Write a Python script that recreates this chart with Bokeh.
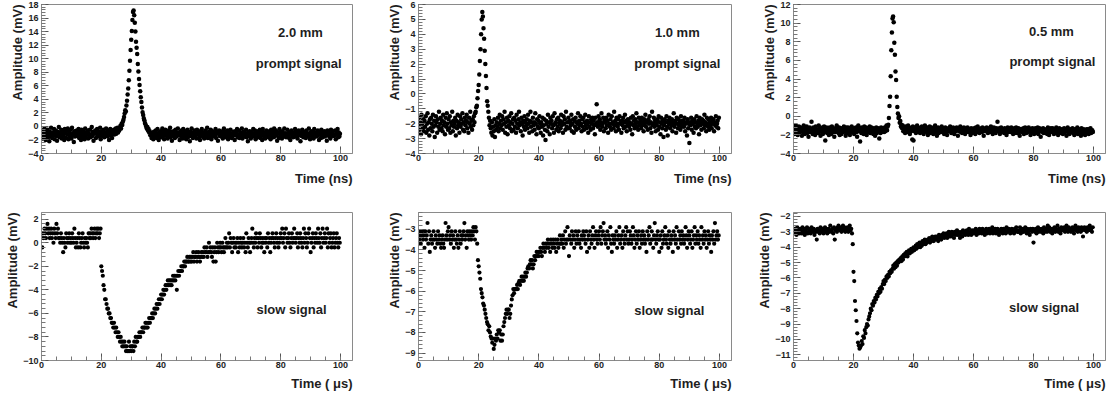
import numpy as np
from bokeh.plotting import figure
from bokeh.layouts import column, row
from bokeh.models import Title, Label, Range1d, SingleIntervalTicker
from bokeh.embed import file_html
from bokeh.resources import INLINE

# ---------------- data ----------------
fast_step_ns = 0.2      # sampling step of the prompt signals (ns)
slow_step_us = 0.25     # sampling step of the slow signals (us)

thickness = ["2.0 mm", "1.0 mm", "0.5 mm"]

prompt_2mm = [
    -1.2, -0.6, -1.8, -0.9, -1.4, -0.3, -1.1, -2.0, -0.7, -1.3,
    -0.5, -1.6, -1.0, -2.2, -0.8, -1.5, -0.2, -1.1, -1.7, -0.9,
    -1.3, -0.4, -1.9, -1.0, -0.6, -1.4, -2.1, -0.8, -1.2, -0.1,
    -1.6, -0.9, -1.3, -0.5, -1.8, -1.1, -0.7, -1.5, -2.0, -0.4,
    -1.0, -1.7, -0.6, -1.2, -0.3, -1.9, -0.8, -1.4, -1.1, -0.5,
    -1.8, -0.2, -1.3, -1.0, -2.3, -0.7, -1.5, -0.9, -1.2, -0.6,
    -1.4, -1.1, -0.4, -1.7, -0.8, -1.3, -2.0, -0.5, -1.0, -1.6,
    -0.7, -1.2, -1.9, -0.3, -1.5, -0.9, -1.1, -0.6, -1.8, -1.0,
    -1.3, -0.5, -1.6, -1.2, -0.1, -1.4, -0.8, -2.1, -0.9, -1.1,
    -0.6, -1.7, -1.0, -0.4, -1.3, -0.8, -1.5, -1.2, -0.2, -1.9,
    -1.1, -0.7, -1.4, -1.0, -0.5, -1.6, -0.9, -1.3, -0.3, -1.2,
    -0.8, -1.5, -0.6, -2.0, -1.1, -0.4, -1.3, -0.9, -1.7, -0.7,
    -1.0, -0.5, -1.2, -0.8, -0.3, -1.1, -0.6, -0.2, -0.9, -0.4,
    -0.6, -0.2, 0.1, -0.3, 0.4, 0.2, 0.7, 1.0, 1.4, 1.9,
    2.4, 2.2, 3.1, 3.8, 4.7, 5.6, 6.8, 8.2, 9.7, 11.3,
    12.8, 14.1, 15.7, 16.9, 17.1, 16.4, 15.3, 14.0, 12.5, 11.6,
    10.7, 9.2, 8.1, 7.0, 6.1, 5.2, 4.3, 3.6, 2.8, 2.1,
    1.7, 1.2, 0.9, 0.5, 0.3, 0.0, -0.3, -0.1, -0.6, -0.4,
    -0.9, -0.7, -1.3, -1.0, -1.7, -1.4, -1.1, -1.9, -0.8, -1.5,
    -1.2, -0.6, -1.7, -1.0, -0.4, -1.4, -2.0, -0.9, -1.3, -0.7,
    -1.6, -1.1, -0.3, -1.5, -0.8, -1.9, -1.2, -0.5, -1.0, -1.4,
    -0.9, -1.8, -0.6, -1.3, -1.1, -0.2, -1.6, -0.8, -2.1, -1.0,
    -1.4, -0.7, -1.2, -1.7, -0.5, -1.0, -1.5, -0.9, -0.3, -1.3,
    -1.1, -2.0, -0.8, -1.4, -0.6, -1.2, -1.8, -0.4, -1.0, -1.5,
    -0.7, -1.3, -1.9, -1.0, -0.5, -1.6, -0.9, -1.2, -2.2, -0.8,
    -1.4, -0.3, -1.1, -1.7, -0.9, -1.3, -0.6, -1.5, -1.0, -1.8,
    -0.5, -1.2, -1.0, -0.7, -1.6, -2.0, -0.8, -1.3, -0.4, -1.1,
    -1.5, -0.9, -1.8, -1.2, -0.6, -1.0, -1.4, -0.2, -1.7, -1.1,
    -0.8, -1.6, -1.3, -0.5, -1.9, -1.0, -0.7, -1.5, -1.2, -0.9,
    -1.3, -0.4, -1.7, -1.1, -0.8, -2.1, -1.0, -0.6, -1.4, -1.2,
    -0.9, -1.5, -0.7, -1.8, -1.2, -0.3, -1.1, -1.6, -0.8, -1.4,
    -1.0, -0.6, -1.9, -1.3, -0.9, -1.5, -0.5, -1.2, -1.7, -1.0,
    -1.4, -0.8, -1.1, -2.0, -0.7, -1.3, -1.0, -0.4, -1.6, -1.2,
    -0.6, -1.7, -1.2, -0.9, -1.4, -0.3, -1.8, -1.1, -0.8, -1.5,
    -1.2, -1.0, -0.5, -1.6, -1.3, -2.2, -0.9, -1.4, -0.7, -1.1,
    -1.8, -0.8, -1.3, -1.0, -0.4, -1.5, -1.2, -0.6, -1.9, -0.9,
    -1.1, -1.6, -0.7, -1.4, -1.0, -0.5, -1.7, -1.3, -0.8, -2.0,
    -0.4, -1.2, -1.5, -0.9, -1.8, -1.1, -0.6, -1.3, -1.0, -1.6,
    -1.3, -0.7, -1.0, -1.9, -0.5, -1.4, -1.2, -0.8, -1.6, -0.3,
    -1.5, -1.1, -0.6, -1.3, -2.1, -0.9, -1.0, -1.7, -0.4, -1.2,
    -0.8, -1.4, -1.8, -0.7, -1.1, -1.5, -0.3, -1.2, -1.0, -1.6,
    -1.2, -0.5, -1.3, -1.0, -1.7, -0.8, -2.0, -1.1, -0.6, -1.4,
    -1.0, -1.6, -0.9, -1.5, -0.4, -1.2, -1.3, -0.7, -1.8, -1.1,
    -0.6, -1.3, -1.1, -2.2, -0.9, -1.4, -0.5, -1.0, -1.6, -0.8,
    -1.4, -0.9, -1.7, -0.6, -1.2, -1.0, -1.5, -0.3, -1.3, -1.9,
    -1.1, -0.7, -1.2, -1.6, -0.8, -1.8, -0.4, -1.3, -1.0, -1.5,
    -0.9, -1.4, -0.6, -1.1, -2.0, -1.2, -0.8, -1.7, -0.5, -1.3,
    -1.6, -1.0, -1.3, -0.7, -1.5, -0.9, -1.2, -2.1, -0.6, -1.0,
    -0.8, -1.5, -1.1, -1.8, -0.5, -1.3, -1.0, -0.7, -1.4, -1.2,
    -1.3, -0.6, -1.9, -1.0, -1.2, -0.4, -1.6, -0.9, -1.5, -1.1,
]

prompt_1mm = [
    -2.1, -1.6, -2.4, -1.9, -2.7, -1.4, -2.0, -2.3, -1.7, -2.5,
    -1.8, -2.2, -1.5, -2.6, -2.0, -1.3, -2.4, -1.9, -2.8, -1.7,
    -2.3, -1.6, -2.0, -2.5, -1.4, -2.2, -1.8, -2.9, -2.1, -1.5,
    -1.9, -2.6, -1.7, -2.2, -1.2, -2.4, -2.0, -1.6, -2.3, -1.8,
    -2.5, -1.4, -2.1, -1.9, -2.7, -1.6, -2.2, -1.3, -2.0, -2.4,
    -1.7, -2.3, -1.5, -2.6, -1.9, -2.1, -1.2, -2.5, -1.8, -2.2,
    -2.0, -1.6, -2.8, -1.8, -2.3, -1.4, -2.1, -1.9, -2.6, -1.5,
    -2.2, -1.7, -2.0, -1.3, -2.4, -1.9, -2.5, -1.6, -2.1, -1.8,
    -1.4, -2.3, -1.9, -2.6, -1.6, -2.0, -1.2, -2.2, -1.8, -2.4,
    -1.7, -2.1, -1.5, -1.9, -1.3, -1.2, -0.9, -0.8, -0.3, 0.2,
    0.6, 1.3, 2.2, 3.0, 4.0, 5.0, 5.5, 5.2, 4.4, 3.7,
    2.9, 2.0, 1.2, 0.4, -0.5, -0.8, -1.2, -1.6, -2.1, -1.8,
    -2.3, -2.6, -1.9, -2.8, -2.2, -2.5, -1.7, -2.9, -2.1, -2.4,
    -1.9, -2.2, -1.6, -2.5, -2.0, -1.4, -2.3, -1.8, -2.1, -1.5,
    -2.4, -1.7, -2.0, -1.2, -2.6, -1.9, -2.2, -1.6, -2.7, -1.8,
    -2.1, -1.5, -2.3, -1.9, -1.3, -2.5, -2.0, -1.7, -2.4, -1.6,
    -2.2, -1.8, -2.6, -1.4, -2.0, -2.3, -1.7, -1.2, -2.1, -1.9,
    -2.5, -1.6, -2.0, -2.8, -1.8, -2.2, -1.5, -2.4, -1.9, -2.1,
    -1.7, -2.3, -1.4, -2.0, -2.6, -1.8, -1.2, -2.2, -1.9, -2.5,
    -1.6, -2.1, -1.9, -2.4, -1.3, -2.0, -2.7, -1.7, -2.2, -1.8,
    -2.3, -1.5, -2.0, -2.6, -1.9, -2.2, -1.6, -2.8, -2.1, -1.7,
    -2.4, -3.1, -1.8, -2.0, -2.5, -1.4, -2.2, -1.9, -2.7, -1.6,
    -2.0, -1.8, -2.3, -1.5, -2.1, -2.6, -1.3, -2.0, -1.9, -2.4,
    -1.7, -2.2, -1.6, -2.5, -2.0, -1.8, -2.3, -1.4, -2.1, -1.9,
    -2.6, -1.5, -2.0, -1.7, -2.4, -1.2, -2.2, -1.9, -2.3, -1.6,
    -1.9, -2.3, -1.8, -2.1, -1.4, -2.5, -2.0, -1.7, -2.6, -1.8,
    -2.2, -1.6, -2.4, -1.9, -2.0, -1.3, -2.3, -1.8, -2.1, -1.5,
    -2.0, -2.5, -1.7, -2.2, -1.6, -2.4, -1.9, -1.4, -2.1, -2.3,
    -1.8, -2.0, -2.6, -1.5, -2.2, -1.9, -2.4, -1.7, -2.0, -1.6,
    -2.3, -1.8, -2.1, -2.7, -1.6, -2.0, -0.7, -1.9, -2.2, -1.5,
    -2.1, -1.7, -2.4, -1.9, -1.3, -2.2, -2.0, -1.6, -2.5, -1.8,
    -1.9, -2.3, -1.6, -2.1, -1.8, -2.6, -1.4, -2.0, -2.2, -1.7,
    -2.4, -1.5, -2.0, -1.9, -2.3, -1.2, -2.1, -1.8, -2.5, -1.6,
    -2.0, -2.2, -1.7, -2.4, -1.5, -2.0, -1.9, -2.6, -1.8, -2.1,
    -1.6, -2.3, -1.9, -1.4, -2.2, -1.8, -2.5, -2.0, -1.7, -2.1,
    -2.2, -1.9, -2.4, -1.6, -2.0, -2.7, -1.5, -2.1, -1.8, -2.3,
    -1.7, -2.0, -1.3, -2.2, -1.9, -2.4, -1.6, -2.1, -2.0, -1.8,
    -2.3, -1.6, -2.1, -1.9, -2.5, -1.7, -2.0, -1.4, -2.2, -1.9,
    -1.8, -2.4, -1.7, -2.0, -1.5, -2.3, -1.9, -2.6, -1.2, -2.1,
    -2.0, -1.6, -2.2, -1.8, -2.5, -1.9, -2.1, -1.7, -2.4, -1.5,
    -2.2, -1.9, -2.7, -1.6, -2.0, -2.3, -1.8, -2.9, -2.1, -1.7,
    -1.9, -2.4, -1.5, -2.2, -2.8, -1.8, -2.0, -1.6, -2.3, -1.9,
    -2.1, -1.7, -2.5, -1.9, -1.3, -2.2, -2.0, -1.8, -2.6, -1.6,
    -2.0, -2.3, -1.7, -2.1, -1.9, -2.4, -1.5, -2.2, -1.8, -2.0,
    -1.8, -2.2, -1.6, -2.5, -2.0, -1.9, -2.8, -1.7, -2.3, -2.0,
    -3.3, -1.9, -2.1, -1.6, -2.4, -1.8, -2.0, -2.6, -1.7, -2.2,
    -1.9, -2.3, -1.5, -2.0, -2.2, -1.8, -2.7, -1.6, -2.1, -1.9,
    -2.4, -1.7, -2.0, -1.8, -2.3, -1.4, -2.1, -1.9, -2.5, -1.6,
    -2.0, -2.2, -1.7, -2.4, -1.9, -2.1, -1.6, -2.3, -1.8, -2.0,
    -1.7, -2.5, -1.9, -2.1, -1.5, -2.2, -2.0, -1.8, -2.3, -1.6,
]

prompt_05mm = [
    -1.6, -1.2, -1.9, -1.4, -1.0, -1.7, -1.3, -2.0, -1.5, -1.1,
    -1.8, -1.4, -1.2, -1.6, -2.1, -1.3, -1.7, -1.0, -1.5, -1.9,
    -1.3, -1.6, -1.1, -1.8, -1.4, -2.2, -1.5, -1.2, -1.7, -1.4,
    -0.6, -1.5, -1.9, -1.2, -1.6, -1.3, -2.0, -1.1, -1.7, -1.4,
    -1.5, -1.8, -1.0, -1.6, -1.3, -2.1, -1.4, -1.7, -1.2, -1.9,
    -1.4, -1.1, -1.7, -2.6, -1.5, -1.2, -1.8, -1.3, -1.6, -2.0,
    -1.2, -1.6, -1.4, -1.9, -1.1, -1.5, -1.7, -1.3, -2.2, -1.5,
    -1.7, -1.3, -1.0, -1.6, -1.4, -1.8, -1.2, -2.0, -1.5, -1.3,
    -1.9, -1.5, -1.3, -1.7, -1.1, -1.6, -1.4, -2.1, -1.2, -1.8,
    -1.4, -1.2, -1.8, -1.5, -2.0, -1.3, -1.6, -1.1, -1.7, -1.5,
    -1.6, -1.9, -1.3, -1.4, -1.2, -1.7, -2.2, -1.5, -1.0, -1.6,
    -1.3, -2.7, -1.5, -1.8, -1.2, -1.6, -1.4, -1.9, -1.1, -1.7,
    -1.5, -1.2, -2.0, -1.4, -1.7, -1.3, -1.6, -1.1, -1.8, -1.5,
    -1.2, -1.7, -1.4, -1.9, -1.3, -1.6, -2.1, -1.5, -1.2, -1.8,
    -1.6, -1.3, -1.5, -2.4, -1.4, -1.8, -1.2, -1.7, -1.5, -1.3,
    -1.4, -1.7, -1.2, -1.6, -1.3, -1.0, -1.5, -1.1, -0.9, -0.2,
    1.1, 2.1, 4.3, 7.1, 9.0, 10.5, 10.7, 10.1, 7.9, 6.6,
    4.8, 3.9, 2.1, 1.0, 0.3, -0.2, 0.0, -0.7, -0.5, -1.1,
    -0.9, -1.3, -1.0, -1.6, -1.2, -1.4, -1.8, -1.1, -1.5, -1.3,
    -1.7, -1.0, -1.5, -1.2, -1.9, -1.4, -1.6, -1.3, -2.5, -1.1,
    -2.6, -1.3, -1.6, -1.2, -1.8, -1.4, -1.0, -1.5, -1.7, -1.3,
    -1.4, -1.8, -1.2, -1.5, -1.1, -1.7, -1.3, -1.9, -1.6, -1.0,
    -1.5, -1.3, -1.7, -1.2, -2.0, -1.4, -1.6, -1.1, -1.8, -1.5,
    -1.2, -1.6, -1.4, -1.9, -1.3, -1.5, -1.0, -1.7, -1.4, -2.1,
    -1.6, -1.2, -1.8, -1.4, -1.5, -1.3, -1.7, -1.1, -1.6, -1.4,
    -1.3, -1.9, -1.5, -1.2, -1.7, -1.4, -2.0, -1.5, -1.3, -1.6,
    -1.4, -1.1, -1.6, -1.8, -1.3, -1.5, -1.2, -1.7, -1.9, -1.4,
    -1.6, -1.4, -1.2, -1.5, -2.1, -1.3, -1.6, -1.4, -1.1, -1.7,
    -1.5, -1.8, -1.3, -1.6, -1.2, -1.4, -1.9, -1.5, -1.7, -1.3,
    -1.2, -1.5, -1.7, -1.4, -1.6, -2.0, -1.3, -1.5, -1.8, -1.4,
    -1.6, -1.3, -1.4, -1.9, -1.2, -1.5, -1.7, -1.1, -1.6, -1.4,
    -1.8, -1.4, -1.5, -1.3, -1.7, -1.2, -1.6, -2.1, -1.4, -1.5,
    -1.3, -1.6, -1.2, -1.5, -1.8, -1.4, -1.3, -1.7, -1.5, -1.1,
    -1.7, -1.5, -1.9, -1.4, -1.2, -1.6, -1.4, -1.8, -1.3, -1.5,
    -0.6, -1.4, -1.6, -1.3, -1.9, -1.5, -1.2, -1.7, -1.4, -1.6,
    -1.5, -1.8, -1.3, -1.6, -1.4, -2.0, -1.5, -1.2, -1.7, -1.4,
    -1.3, -1.5, -1.7, -1.2, -1.6, -1.4, -1.9, -1.5, -1.3, -1.8,
    -1.6, -1.2, -1.4, -1.8, -1.5, -1.3, -1.7, -2.1, -1.4, -1.6,
    -1.4, -1.7, -1.5, -1.3, -1.9, -1.6, -1.2, -1.5, -1.8, -1.3,
    -1.7, -1.4, -1.2, -1.6, -1.5, -2.0, -1.4, -1.7, -1.3, -1.5,
    -1.5, -1.9, -1.6, -1.3, -1.8, -1.4, -1.6, -1.2, -1.9, -1.5,
    -1.3, -1.6, -2.2, -1.5, -1.4, -1.7, -1.3, -1.8, -1.5, -1.6,
    -1.8, -1.4, -1.5, -1.9, -1.2, -1.6, -2.0, -1.4, -1.7, -1.3,
    -1.5, -1.7, -1.3, -1.6, -1.9, -1.4, -1.5, -1.8, -1.2, -1.6,
    -1.4, -2.0, -1.6, -1.3, -1.7, -1.5, -1.8, -1.4, -1.6, -1.9,
    -1.6, -1.3, -1.8, -1.5, -1.4, -2.1, -1.6, -1.2, -1.7, -1.5,
    -1.9, -1.5, -1.4, -1.7, -1.6, -1.3, -1.8, -1.5, -2.0, -1.4,
    -1.5, -1.8, -1.6, -1.2, -1.9, -1.5, -1.4, -1.7, -1.6, -2.1,
    -1.3, -1.7, -1.5, -1.9, -1.4, -1.6, -2.0, -1.5, -1.8, -1.4,
    -1.6, -1.4, -1.9, -1.5, -1.7, -1.3, -1.8, -1.6, -1.5, -1.7,
]

slow_2mm = [
    0.4, -0.4, 0.8, 0.4, 1.2, 0.8, 0.4, 1.2, 1.6, 0.8,
    1.2, 0.4, 0.8, 1.2, 0.4, 0.8, 0.0, 1.2, 0.8, 0.4,
    1.6, 0.8, 1.2, 0.4, 0.4, 0.0, 0.8, 0.4, 0.0, -0.8,
    0.4, 0.0, -0.4, 0.8, 0.4, 0.0, 0.4, 0.8, 0.0, 0.4,
    0.0, 0.8, 0.4, 0.0, 1.2, 0.4, -0.4, 0.0, 0.4, -0.4,
    0.8, 0.4, -0.4, 0.0, 0.4, 0.8, 0.0, -0.4, 0.4, 0.0,
    0.4, 0.0, -0.4, 0.8, 0.4, 0.8, 0.4, 1.2, 0.8, 0.4,
    0.8, 1.2, 0.4, 0.8, 1.2, 0.8, 1.2, 0.4, 0.8, 1.2,
    -2.0, -2.4, -2.8, -3.6, -4.0, -4.8, -4.8, -5.2, -5.6, -5.6,
    -6.0, -6.0, -6.4, -6.4, -6.8, -6.8, -7.2, -6.8, -7.2, -7.6,
    -7.2, -7.6, -8.0, -7.6, -8.0, -8.4, -8.0, -8.4, -8.8, -8.4,
    -8.8, -8.4, -8.8, -9.2, -8.8, -9.2, -9.2, -8.4, -9.2, -8.8,
    -9.2, -8.8, -8.8, -9.2, -8.4, -8.8, -8.0, -8.4, -8.4, -8.0,
    -8.0, -7.6, -8.0, -7.6, -7.6, -7.2, -7.6, -7.2, -7.2, -6.8,
    -7.2, -6.8, -7.2, -6.8, -6.4, -6.8, -6.4, -6.4, -6.0, -6.4,
    -6.0, -5.6, -6.0, -5.6, -5.2, -5.6, -5.2, -4.8, -5.2, -4.8,
    -4.4, -4.8, -4.4, -4.0, -4.4, -4.0, -3.6, -4.0, -3.6, -3.2,
    -3.6, -3.2, -3.6, -3.2, -3.6, -3.2, -2.8, -3.2, -2.8, -3.2,
    -2.8, -4.0, -2.8, -2.4, -2.8, -2.4, -2.4, -2.0, -2.4, -2.0,
    -2.0, -1.6, -2.0, -1.6, -1.6, -1.2, -1.6, -1.6, -1.2, -1.6,
    -1.2, -1.6, -1.2, -0.8, -1.6, -1.2, -1.2, -0.8, -1.6, -1.2,
    -0.8, -1.2, -1.6, -1.2, -0.8, -1.2, -0.8, -1.2, -0.4, -0.8,
    -0.8, -0.4, -1.2, -0.8, 0.0, -0.8, -0.4, -0.8, -1.2, -0.4,
    -1.6, -0.8, -0.4, -1.6, -0.8, 0.0, -0.4, -0.8, -0.4, 0.0,
    -0.4, -0.8, 0.0, -0.4, -0.8, -0.4, 0.4, -0.4, 0.0, -0.4,
    0.0, 0.8, -0.4, 0.4, 0.0, -0.8, 0.0, 0.4, -0.4, 0.0,
    -0.4, 0.0, 0.4, -0.8, 0.0, -0.4, 0.4, 0.0, -0.4, 0.0,
    0.4, -0.4, 0.0, -0.8, 0.8, 0.0, -0.4, 0.4, 0.0, -0.8,
    0.0, 0.4, 1.2, 0.0, -0.4, 0.4, 0.0, 0.8, 0.4, -0.4,
    0.4, 0.0, 0.8, 0.4, -0.4, 0.0, 0.4, 0.0, -0.8, 0.4,
    0.0, 0.4, -0.4, 0.8, 0.0, 0.4, -0.8, 0.0, 0.4, 0.8,
    0.4, 0.0, -0.4, 0.4, 0.8, 0.0, 0.4, -0.4, 0.0, 0.4,
    0.8, 0.4, 1.2, 0.0, 0.4, 0.8, -0.4, 1.2, 0.4, 0.0,
    0.4, 0.8, 0.0, -0.4, 0.4, 0.8, 0.0, 0.4, 1.2, 0.4,
    0.0, 0.4, 0.8, -0.4, 0.4, 0.0, 0.8, 0.4, 0.0, -0.4,
    0.4, 1.2, 0.0, 0.8, 0.4, -0.4, 0.0, 0.8, 1.2, 0.4,
    -0.8, 0.0, 0.4, 0.8, -0.4, 0.4, 0.0, 0.8, 0.4, 0.0,
    1.2, 0.4, 0.0, 0.8, -0.4, 0.4, 1.2, 0.0, 0.4, 0.8,
    0.0, 0.4, 1.2, -0.4, 0.8, 0.0, 0.4, 0.8, -0.4, 0.0,
    0.4, 0.8, -0.4, 0.0, 0.4, 0.8, 0.0, -0.4, 0.4, 0.0,
]

slow_1mm = [
    -3.3, -3.5, -3.1, -3.7, -3.3, -3.1, -3.5, -3.3, -3.9, -3.1,
    -3.5, -3.3, -2.7, -3.7, -3.1, -4.1, -3.5, -3.3, -3.7, -3.5,
    -3.1, -3.5, -3.9, -3.3, -3.5, -3.7, -3.1, -3.5, -3.3, -3.7,
    -3.9, -3.5, -3.3, -3.7, -3.9, -3.5, -2.7, -3.3, -3.5, -3.1,
    -2.9, -3.5, -3.3, -3.7, -3.1, -3.5, -3.3, -3.9, -3.5, -3.1,
    -3.5, -3.7, -3.3, -3.9, -3.5, -3.1, -3.7, -3.3, -3.5, -3.3,
    -3.1, -2.7, -3.5, -3.3, -3.9, -3.1, -3.3, -3.5, -3.1, -3.3,
    -3.5, -3.1, -3.3, -2.9, -3.1, -3.5, -2.9, -3.1, -3.7, -4.5,
    -4.8, -5.1, -5.4, -5.9, -6.1, -6.3, -6.6, -6.7, -6.9, -7.1,
    -7.3, -7.5, -7.6, -7.9, -7.7, -8.0, -8.2, -8.3, -8.5, -8.3,
    -8.8, -8.6, -8.3, -8.4, -8.1, -8.3, -7.9, -8.0, -7.9, -8.4,
    -8.1, -8.4, -8.1, -7.7, -7.5, -7.3, -7.1, -6.9, -7.1, -6.9,
    -6.9, -7.3, -7.1, -6.7, -6.4, -6.2, -5.9, -6.1, -5.9, -5.9,
    -5.9, -5.7, -5.9, -5.6, -5.5, -5.7, -5.5, -5.3, -5.5, -5.3,
    -5.5, -5.3, -5.1, -5.3, -5.1, -4.9, -4.8, -4.9, -4.7, -4.5,
    -4.7, -4.5, -4.9, -4.7, -4.3, -4.5, -4.3, -4.1, -4.3, -4.1,
    -4.3, -4.1, -3.9, -4.1, -4.3, -3.9, -3.7, -3.9, -4.1, -3.7,
    -3.9, -3.7, -3.5, -3.9, -3.7, -4.1, -3.5, -3.7, -3.9, -3.5,
    -3.7, -3.9, -3.5, -4.1, -3.7, -3.5, -3.9, -3.7, -3.3, -3.7,
    -3.5, -3.7, -3.3, -3.9, -3.5, -3.1, -3.7, -3.5, -2.9, -3.5,
    -4.3, -3.3, -3.5, -3.7, -3.1, -3.5, -3.3, -3.9, -3.5, -3.1,
    -3.7, -3.3, -3.5, -3.1, -3.7, -3.5, -3.9, -3.3, -3.5, -3.1,
    -3.3, -3.5, -3.7, -3.1, -4.1, -3.5, -3.3, -3.9, -3.1, -3.5,
    -3.7, -3.3, -2.9, -3.5, -3.9, -3.3, -3.1, -3.5, -3.7, -3.3,
    -3.1, -3.5, -2.9, -3.7, -3.3, -3.1, -2.7, -3.5, -3.3, -3.7,
    -3.5, -3.1, -3.9, -3.3, -3.5, -2.9, -3.7, -4.1, -3.3, -3.5,
    -3.7, -3.3, -3.5, -3.1, -3.9, -3.5, -3.3, -2.9, -3.7, -3.5,
    -3.3, -3.9, -3.1, -3.5, -3.7, -3.3, -2.9, -3.5, -3.1, -3.7,
    -3.5, -3.1, -3.3, -3.7, -3.5, -2.9, -3.3, -3.9, -3.5, -3.1,
    -3.7, -3.3, -3.5, -3.1, -3.9, -3.5, -3.3, -3.7, -3.1, -3.5,
    -3.3, -3.7, -3.5, -4.1, -3.1, -3.5, -3.3, -2.9, -3.7, -3.5,
    -3.1, -3.5, -3.9, -3.3, -2.7, -3.5, -3.7, -3.3, -3.1, -3.5,
    -4.1, -3.5, -3.3, -3.9, -3.1, -3.7, -3.5, -3.3, -2.9, -3.5,
    -3.7, -3.3, -3.9, -3.1, -3.5, -3.7, -3.3, -3.5, -4.1, -3.1,
    -3.5, -3.3, -3.7, -2.9, -3.5, -3.9, -3.1, -3.5, -3.3, -3.7,
    -3.1, -3.5, -3.3, -3.7, -3.5, -2.9, -3.3, -3.9, -3.5, -3.1,
    -3.3, -3.7, -3.5, -3.1, -3.9, -3.5, -3.3, -2.9, -3.7, -3.3,
    -3.5, -3.1, -3.7, -3.3, -3.5, -3.9, -2.9, -3.5, -3.3, -3.7,
    -3.1, -3.5, -3.3, -3.9, -3.5, -3.1, -3.7, -3.3, -3.5, -4.1,
    -3.3, -3.5, -3.1, -3.7, -2.7, -3.5, -3.3, -3.1, -3.5, -3.3,
]

slow_05mm = [
    -3.0, -2.8, -3.1, -2.9, -3.2, -2.7, -3.0, -2.9, -3.1, -2.8,
    -2.9, -3.1, -2.7, -3.0, -2.8, -3.2, -2.9, -3.0, -2.7, -3.1,
    -2.8, -3.0, -2.9, -3.1, -2.7, -2.9, -3.0, -2.8, -3.2, -2.9,
    -3.0, -3.5, -2.8, -3.0, -2.9, -3.1, -2.7, -2.9, -3.0, -2.8,
    -3.1, -2.9, -2.7, -3.0, -2.8, -3.1, -2.9, -2.8, -3.0, -2.6,
    -2.9, -3.0, -2.8, -3.1, -2.7, -3.5, -2.9, -2.8, -3.0, -2.7,
    -2.6, -2.8, -2.9, -2.7, -3.0, -2.8, -2.6, -2.9, -2.7, -3.0,
    -2.8, -2.9, -2.7, -3.0, -2.8, -2.6, -2.9, -2.8, -3.1, -3.8,
    -5.6, -6.2, -7.5, -8.1, -8.8, -9.6, -10.2, -10.4, -10.6, -10.5,
    -10.4, -10.1, -10.3, -9.8, -9.9, -9.4, -9.6, -9.2, -9.0, -9.1,
    -8.7, -8.5, -8.3, -8.0, -8.1, -7.7, -7.8, -7.5, -7.6, -7.3,
    -7.4, -7.1, -7.2, -6.9, -7.0, -6.7, -6.9, -6.6, -6.7, -6.4,
    -6.2, -6.4, -6.1, -6.2, -5.9, -6.0, -5.8, -5.9, -5.6, -5.7,
    -5.5, -5.6, -5.4, -5.2, -5.4, -5.1, -5.3, -5.0, -5.2, -4.9,
    -5.0, -4.8, -4.9, -4.7, -4.9, -4.6, -4.8, -4.5, -4.6, -4.4,
    -4.5, -4.3, -4.6, -4.4, -4.2, -4.4, -4.3, -4.1, -4.3, -4.2,
    -4.0, -4.2, -4.1, -3.9, -4.1, -3.8, -4.0, -3.9, -3.7, -4.0,
    -3.8, -3.9, -3.6, -3.8, -3.7, -3.5, -3.8, -3.6, -3.7, -3.5,
    -3.6, -3.4, -3.7, -3.5, -3.6, -3.3, -3.5, -3.6, -3.4, -3.3,
    -3.5, -3.3, -3.4, -3.6, -3.2, -3.4, -3.3, -3.5, -3.2, -3.3,
    -3.1, -3.4, -3.2, -3.3, -3.1, -3.4, -3.2, -3.0, -3.3, -3.2,
    -3.3, -3.0, -3.2, -3.1, -3.4, -3.0, -3.2, -3.1, -2.9, -3.2,
    -3.0, -3.2, -3.4, -3.1, -3.0, -3.3, -2.9, -3.1, -3.0, -3.2,
    -3.1, -2.9, -3.0, -3.2, -2.8, -3.1, -3.0, -3.2, -2.9, -3.0,
    -3.1, -2.9, -3.0, -2.8, -3.2, -3.0, -2.9, -3.1, -2.8, -3.0,
    -2.9, -3.1, -2.8, -3.0, -2.9, -3.2, -3.0, -2.8, -3.1, -2.9,
    -3.0, -2.8, -3.1, -2.9, -3.0, -2.7, -3.1, -2.9, -3.0, -2.8,
    -3.1, -2.9, -2.8, -3.0, -3.2, -2.9, -3.0, -2.8, -2.9, -3.1,
    -2.8, -3.0, -2.9, -3.1, -2.7, -3.0, -2.9, -2.8, -3.0, -3.1,
    -2.9, -2.8, -3.0, -2.9, -3.1, -2.8, -3.0, -2.7, -2.9, -3.0,
    -3.0, -2.9, -2.7, -3.1, -2.9, -3.0, -2.8, -3.0, -2.9, -2.7,
    -2.9, -3.1, -2.8, -3.0, -2.9, -3.2, -2.8, -2.9, -3.0, -2.8,
    -3.7, -2.9, -3.0, -2.8, -3.1, -2.9, -2.7, -3.0, -2.8, -2.9,
    -3.0, -2.8, -2.9, -3.1, -2.7, -3.0, -2.9, -2.8, -3.0, -2.6,
    -2.9, -2.7, -3.0, -2.8, -2.9, -3.1, -2.8, -2.9, -2.7, -3.0,
    -2.8, -2.9, -2.6, -3.0, -2.8, -2.9, -3.1, -2.7, -2.9, -2.8,
    -2.9, -2.7, -3.0, -2.8, -2.6, -2.9, -3.0, -2.7, -2.9, -2.8,
    -3.0, -2.8, -2.7, -2.9, -3.1, -2.8, -2.6, -2.9, -2.8, -3.0,
    -2.7, -2.9, -2.8, -3.0, -2.7, -2.9, -3.3, -2.8, -2.7, -2.9,
    -2.8, -3.0, -2.7, -2.9, -2.8, -2.6, -2.9, -2.8, -3.0, -2.7,
]

# ---------------- styling / layout ----------------
FONT = "Liberation Sans"
TXT = "#1e1e1e"


def panel(vals, step, y0, y1, ystep, xtitle, notes, col, rw, msize):
    bl, fw, br = col
    bt, fh, bb, tstand = rw
    t = np.arange(len(vals)) * step
    p = figure(frame_width=fw, frame_height=fh,
               x_range=Range1d(0, 104), y_range=Range1d(y0, y1),
               output_backend="svg", toolbar_location=None,
               min_border_left=bl, min_border_right=br,
               min_border_top=bt, min_border_bottom=bb,
               background_fill_color="white", border_fill_color="white")
    p.xgrid.visible = False
    p.ygrid.visible = False
    p.outline_line_color = "#8a8a8a"
    p.outline_line_width = 1
    p.scatter(t, vals, size=msize, fill_color="black", line_color=None)

    tickers = [(p.xaxis[0], SingleIntervalTicker(interval=20, num_minor_ticks=4), 1),
               (p.yaxis[0], SingleIntervalTicker(interval=ystep, num_minor_ticks=5), 3)]
    for ax, tk, stand in tickers:
        ax.ticker = tk
        ax.major_tick_in = 7
        ax.major_tick_out = 0
        ax.minor_tick_in = 4
        ax.minor_tick_out = 0
        ax.axis_line_color = "#8a8a8a"
        ax.major_tick_line_color = "#555555"
        ax.minor_tick_line_color = "#777777"
        ax.major_label_text_font = FONT
        ax.major_label_text_font_size = "9px"
        ax.major_label_text_font_style = "bold"
        ax.major_label_text_color = TXT
        ax.major_label_standoff = stand

    p.add_layout(Title(text="Amplitude (mV)", align="right", text_font=FONT,
                       text_font_size="13px", text_font_style="bold",
                       text_color=TXT, standoff=2, offset=0), "left")
    p.add_layout(Title(text=xtitle, align="right", text_font=FONT,
                       text_font_size="13px", text_font_style="bold",
                       text_color=TXT, standoff=tstand, offset=0), "below")
    for x, y, s in notes:
        p.add_layout(Label(x=x, y=y, text=s, text_align="center",
                           text_baseline="middle", text_font=FONT,
                           text_font_size="13px", text_font_style="bold",
                           text_color=TXT))
    return p


# columns: (left border, frame width, right border)
cols = [(41, 311, 18), (48, 313, 9), (53, 312, 5)]
# rows: (top border, frame height, bottom border, x-title standoff)
top_row = (4, 149, 44, 11)
bot_row = (15, 148, 34, 6)

p1 = panel(prompt_2mm, fast_step_ns, -4, 18, 2, "Time (ns)",
           [(86.6, 13.9, thickness[0]), (86.0, 9.3, "prompt signal")], cols[0], top_row, 4.5)
p2 = panel(prompt_1mm, fast_step_ns, -4, 6, 1, "Time (ns)",
           [(86.0, 4.12, thickness[1]), (86.0, 2.04, "prompt signal")], cols[1], top_row, 4.5)
p3 = panel(prompt_05mm, fast_step_ns, -4, 12, 2, "Time (ns)",
           [(86.0, 9.1, thickness[2]), (86.3, 5.9, "prompt signal")], cols[2], top_row, 4.5)
p4 = panel(slow_2mm, slow_step_us, -10, 2.57, 2, "Time ( \u03bcs)",
           [(83.6, -5.63, "slow signal")], cols[0], bot_row, 4.2)
p5 = panel(slow_1mm, slow_step_us, -9.36, -2.19, 1, "Time ( \u03bcs)",
           [(83.3, -6.93, "slow signal")], cols[1], bot_row, 4.2)
p6 = panel(slow_05mm, slow_step_us, -11.37, -1.74, 1, "Time ( \u03bcs)",
           [(83.5, -7.94, "slow signal")], cols[2], bot_row, 4.2)

layout = column(row(p1, p2, p3), row(p4, p5, p6))
open("out.html", "w").write(file_html(layout, INLINE))
